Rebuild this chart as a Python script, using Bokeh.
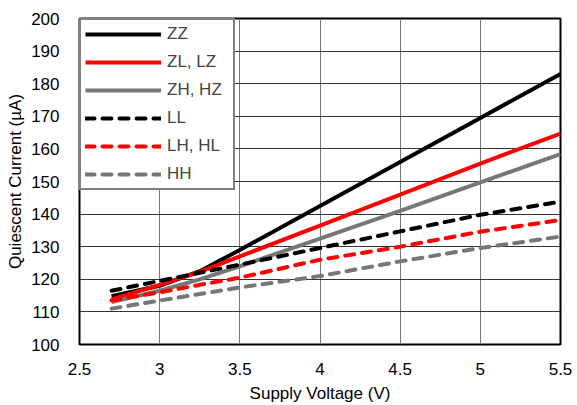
from bokeh.plotting import figure
from bokeh.models import Range1d, FixedTicker, Legend, LegendItem
from bokeh.embed import file_html
from bokeh.resources import INLINE

voltage = [2.7, 3.0, 3.25, 3.5, 4.0, 4.5, 5.0, 5.5]
zz = [114.8, 118.0, 122.5, 129.0, 142.5, 156.0, 169.5, 183.0]
zl_lz = [113.8, 118.3, 122.3, 127.0, 136.5, 146.0, 155.5, 164.7]
zh_hz = [113.0, 116.5, 120.0, 124.0, 132.5, 141.0, 149.7, 158.4]
ll = [116.5, 119.5, 122.0, 124.5, 129.6, 134.7, 139.8, 143.8]
lh_hl = [113.5, 116.0, 118.3, 120.5, 126.0, 130.0, 134.6, 138.2]
hh = [111.0, 113.5, 115.5, 117.5, 121.0, 125.5, 129.6, 133.1]

series = [
    ("ZZ", zz, "black", "solid"),
    ("ZL, LZ", zl_lz, "#ff0000", "solid"),
    ("ZH, HZ", zh_hz, "#777777", "solid"),
    ("LL", ll, "black", "9 8"),
    ("LH, HL", lh_hl, "#ff0000", "9 8"),
    ("HH", hh, "#777777", "9 8"),
]

x_ticks = [2.5, 3, 3.5, 4, 4.5, 5, 5.5]
y_ticks = [100, 110, 120, 130, 140, 150, 160, 170, 180, 190, 200]

FONT = "Liberation Sans"

p = figure(width=572, height=405, output_backend="svg", toolbar_location=None,
           x_range=Range1d(2.5, 5.5), y_range=Range1d(100, 200),
           min_border_left=79, min_border_right=12, min_border_top=18, min_border_bottom=60)

p.outline_line_color = "black"
p.outline_line_width = 2
p.background_fill_color = "white"

items = []
for name, ys, color, dash in series:
    cap = "butt" if dash == "solid" else "round"
    r = p.line(voltage, ys, line_color=color, line_width=4, line_dash=dash, line_cap=cap)
    items.append(LegendItem(label=name, renderers=[r]))

p.xaxis.ticker = FixedTicker(ticks=x_ticks)
p.yaxis.ticker = FixedTicker(ticks=y_ticks)
p.xaxis.major_label_overrides = {2.5: "2.5", 3: "3", 3.5: "3.5", 4: "4", 4.5: "4.5", 5: "5", 5.5: "5.5"}
for ax in (p.xaxis, p.yaxis):
    ax.axis_line_color = None
    ax.major_tick_line_color = None
    ax.minor_tick_line_color = None
    ax.major_label_text_font = FONT
    ax.major_label_text_font_size = "17px"
    ax.major_label_text_color = "black"
    ax.axis_label_text_font = FONT
    ax.axis_label_text_font_size = "17px"
    ax.axis_label_text_font_style = "normal"
    ax.axis_label_text_color = "black"
p.xaxis.axis_label = "Supply Voltage (V)"
p.yaxis.axis_label = "Quiescent Current (µA)"
p.xaxis.major_label_standoff = 12
p.yaxis.major_label_standoff = 14
p.xaxis.axis_label_standoff = 6
p.yaxis.axis_label_standoff = 3

p.xgrid.grid_line_color = "#777777"
p.xgrid.grid_line_width = 1
p.ygrid.grid_line_color = "#333333"
p.ygrid.grid_line_width = 1

legend = Legend(items=items, location="top_left", margin=0,
                border_line_color="black", border_line_width=2,
                background_fill_color="white", background_fill_alpha=1,
                label_text_font=FONT, label_text_font_size="17px",
                glyph_width=76, glyph_height=18, label_height=18, spacing=8,
                padding=4, label_standoff=6, label_width=62)
p.add_layout(legend)

open("out.html", "w").write(file_html(p, INLINE))
